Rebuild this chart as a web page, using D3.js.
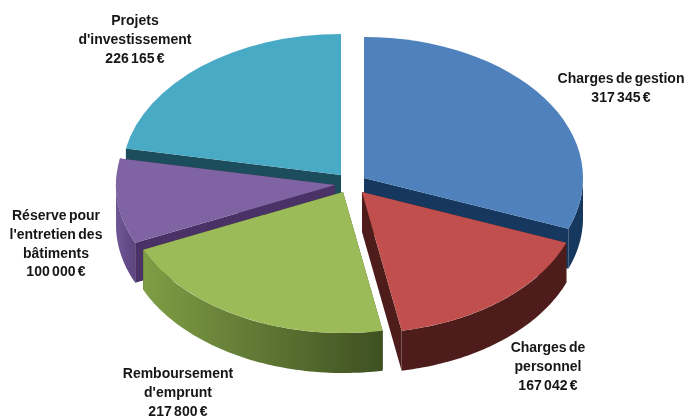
<!DOCTYPE html>
<html><head><meta charset="utf-8">
<script src="https://cdn.jsdelivr.net/npm/d3@7"></script>
<style>html,body{margin:0;background:#fff}svg{display:block}</style></head>
<body><svg id="c" width="688" height="416"></svg>
<script>
// Data
const categories = ["Charges de gestion","Charges de personnel","Remboursement d'emprunt","Réserve pour l'entretien des bâtiments","Projets d'investissement"];
const values = [317345,167042,217800,100000,226165];
const valueLabels = ["317 345 €","167 042 €","217 800 €","100 000 €","226 165 €"];
const labelLines = [["Charges de gestion"],["Charges de","personnel"],["Remboursement","d'emprunt"],["Réserve pour","l'entretien des","bâtiments"],["Projets","d'investissement"]];
// Style / layout
const topColors = ["#4f81bd","#c0504d","#9bbb59","#8064a2","#4aaac6"];
const wallFrom = ["#17375e","#4f1f1c","#7f9e45","#6f5796","#1f4d5d"];
const wallTo   = ["#17375e","#4f1f1c","#3e5022","#5d4580","#1f4d5d"];
const cutColors = ["#17375e","#4f1f1c","#3e5022","#4b3266","#1f4d5d"];
const apexX = [364,362,343,335,341];
const apexY = [178,192,192,185,175];
const labelX = [621,548,178,56,135];
const labelY = [78,347,373,215,20];
const drawOrder = [4,0,3,2,1];
const rx = 219, ry = 141, depth = 40, lineH = 18.8;

const svg = d3.select("#c");
const defs = svg.append("defs");
const f = defs.append("filter").attr("id","soft").attr("x","-5%").attr("y","-5%").attr("width","110%").attr("height","110%");
f.append("feGaussianBlur").attr("stdDeviation",0.45);

const arcs = d3.pie().sort(null).startAngle(0).endAngle(2*Math.PI)(values);
const arc = d3.arc().innerRadius(0).outerRadius(rx);
const sx = d3.scaleLinear().domain([0,1]).range([0,rx]);
const sy = d3.scaleLinear().domain([0,1]).range([0,ry]);
const line = d3.line();
const root = svg.append("g").attr("filter","url(#soft)");

drawOrder.forEach(i=>{
  const a = arcs[i], g = root.append("g").attr("transform",`translate(${apexX[i]},${apexY[i]})`);
  const px = t=>sx(Math.sin(t)), py = t=>-sy(Math.cos(t));
  // cut faces
  [a.endAngle,a.startAngle].forEach(t=>{
    g.append("path").attr("fill",cutColors[i])
      .attr("d",line([[0,0],[px(t),py(t)],[px(t),py(t)+depth],[0,depth]])+"Z");
  });
  // outer wall
  const lo = Math.max(a.startAngle,Math.PI/2), hi = Math.min(a.endAngle,3*Math.PI/2);
  if(hi>lo){
    const ts = d3.range(0,61).map(k=>lo+(hi-lo)*k/60);
    const id = "w"+i, xs = ts.map(px);
    const lg = defs.append("linearGradient").attr("id",id).attr("gradientUnits","userSpaceOnUse")
      .attr("x1",d3.min(xs)).attr("x2",d3.max(xs)).attr("y1",0).attr("y2",0);
    lg.append("stop").attr("offset",0).attr("stop-color",wallFrom[i]);
    lg.append("stop").attr("offset",1).attr("stop-color",wallTo[i]);
    const pts = ts.map(t=>[px(t),py(t)]).concat(ts.slice().reverse().map(t=>[px(t),py(t)+depth]));
    g.append("path").attr("fill",`url(#${id})`).attr("d",line(pts)+"Z");
  }
  // top face
  g.append("path").attr("transform",`scale(1,${ry/rx})`).attr("fill",topColors[i]).attr("d",arc(a));
});

const tg = root.append("g").attr("font-family","'Liberation Sans',Arial,sans-serif")
  .attr("font-weight","bold").attr("font-size",14).attr("fill","#161616").attr("text-anchor","middle").attr("word-spacing",-1.5);
categories.forEach((c,i)=>{
  labelLines[i].concat(valueLabels[i]).forEach((s,k)=>{
    tg.append("text").attr("x",labelX[i]).attr("y",labelY[i]+k*lineH).attr("dy","0.36em").text(s);
  });
});
</script></body></html>
